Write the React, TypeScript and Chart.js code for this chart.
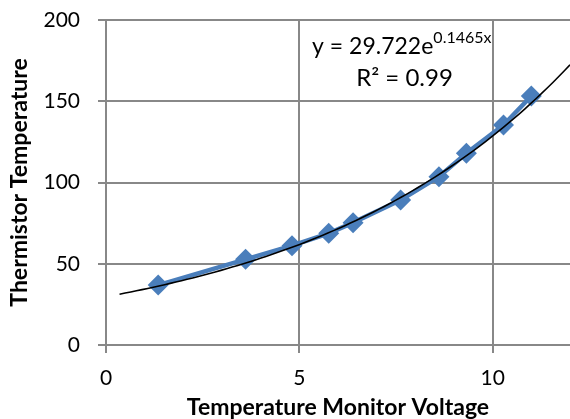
import React, { useEffect, useRef } from "react";
import { Chart, registerables } from "chart.js";

Chart.register(...registerables);

const voltage = [1.35, 3.61, 4.81, 5.76, 6.39, 7.62, 8.61, 9.32, 10.28, 11.0];
const temperature = [36.9, 52.7, 61.1, 68.7, 75.3, 89.2, 103.6, 118.0, 135.4, 153.2];

const fitA = 29.722;
const fitB = 0.1465;
const fitStart = 0.35;
const fitEnd = 12;

const xTicks = [0, 5, 10];
const yTicks = [0, 50, 100, 150, 200];

const eqMain = "y = 29.722e";
const eqSup = "0.1465x";
const eqR2 = "R² = 0.99";

const FONT = "Lato, 'Open Sans', sans-serif";

export default function App() {
  const ref = useRef<HTMLCanvasElement>(null);
  useEffect(() => {
    const canvas = ref.current!;
    const trend: { x: number; y: number }[] = [];
    const n = 80;
    for (let i = 0; i <= n; i++) {
      const x = fitStart + ((fitEnd - fitStart) * i) / n;
      trend.push({ x, y: fitA * Math.exp(fitB * x) });
    }
    const labelPlugin = {
      id: "eqLabel",
      afterDraw(chart: any) {
        const ctx = chart.ctx;
        const xs = chart.scales.x;
        const ys = chart.scales.y;
        const cx1 = xs.getPixelForValue(7.65);
        const cx2 = xs.getPixelForValue(7.72);
        const y1 = ys.getPixelForValue(183.4);
        const y2 = ys.getPixelForValue(164.3);
        ctx.save();
        ctx.fillStyle = "#000";
        ctx.textBaseline = "middle";
        ctx.font = `23px ${FONT}`;
        const wMain = ctx.measureText(eqMain).width;
        ctx.font = `16px ${FONT}`;
        const wSup = ctx.measureText(eqSup).width;
        const left = cx1 - (wMain + wSup) / 2;
        ctx.textAlign = "left";
        ctx.font = `23px ${FONT}`;
        ctx.fillText(eqMain, left, y1);
        ctx.font = `16px ${FONT}`;
        ctx.fillText(eqSup, left + wMain, y1 - 9);
        ctx.font = `24px ${FONT}`;
        ctx.textAlign = "center";
        ctx.fillText(eqR2, cx2, y2);
        ctx.restore();
      },
    };
    const chart = new Chart(canvas, {
      type: "scatter",
      data: {
        datasets: [
          {
            label: "data",
            data: voltage.map((v, i) => ({ x: v, y: temperature[i] })),
            showLine: true,
            borderColor: "#4a7ebb",
            backgroundColor: "#4a7ebb",
            borderWidth: 4.5,
            pointStyle: "rectRot",
            pointRadius: 10.5,
            pointBorderWidth: 0,
            order: 2,
          },
          {
            label: "trend",
            data: trend,
            showLine: true,
            borderColor: "#000",
            borderWidth: 1.6,
            pointRadius: 0,
            tension: 0,
            order: 1,
          },
        ],
      },
      options: {
        animation: false,
        responsive: false,
        layout: { autoPadding: false, padding: { left: 0, right: 0, top: 20, bottom: 0 } },
        plugins: {
          legend: { display: false },
          tooltip: { enabled: false },
        },
        scales: {
          x: {
            type: "linear",
            min: 0,
            max: 12,
            afterBuildTicks(scale: any) {
              scale.ticks = xTicks.map((v) => ({ value: v }));
            },
            afterFit(scale: any) {
              scale.height = 74;
              scale.paddingLeft = 0;
              scale.paddingRight = 0;
            },
            border: { color: "#888", width: 2 },
            grid: { color: "#888", lineWidth: 2, tickLength: 8 },
            ticks: {
              color: "#000",
              font: { family: FONT, size: 21 },
              padding: 13,
              maxRotation: 0,
            },
            title: {
              display: true,
              text: "Temperature Monitor Voltage",
              color: "#000",
              font: { family: FONT, size: 23, weight: "bold" },
              padding: { top: 0, bottom: -2 },
            },
          },
          y: {
            type: "linear",
            min: 0,
            max: 200,
            afterBuildTicks(scale: any) {
              scale.ticks = yTicks.map((v) => ({ value: v }));
            },
            afterFit(scale: any) {
              scale.width = 106;
              scale.paddingTop = 0;
              scale.paddingBottom = 0;
            },
            border: { color: "#888", width: 2 },
            grid: { color: "#888", lineWidth: 2, tickLength: 8 },
            ticks: {
              color: "#000",
              font: { family: FONT, size: 21 },
              padding: 18,
            },
            title: {
              display: true,
              text: "Thermistor Temperature",
              color: "#000",
              font: { family: FONT, size: 23, weight: "bold" },
              padding: { top: 6, bottom: 0 },
            },
          },
        },
      },
      plugins: [labelPlugin],
    });
    return () => chart.destroy();
  }, []);
  return (
    <div style={{ position: "absolute", left: 0, top: 0, width: 570, height: 419, background: "#fff" }}>
      <canvas ref={ref} width={570} height={419} />
    </div>
  );
}
